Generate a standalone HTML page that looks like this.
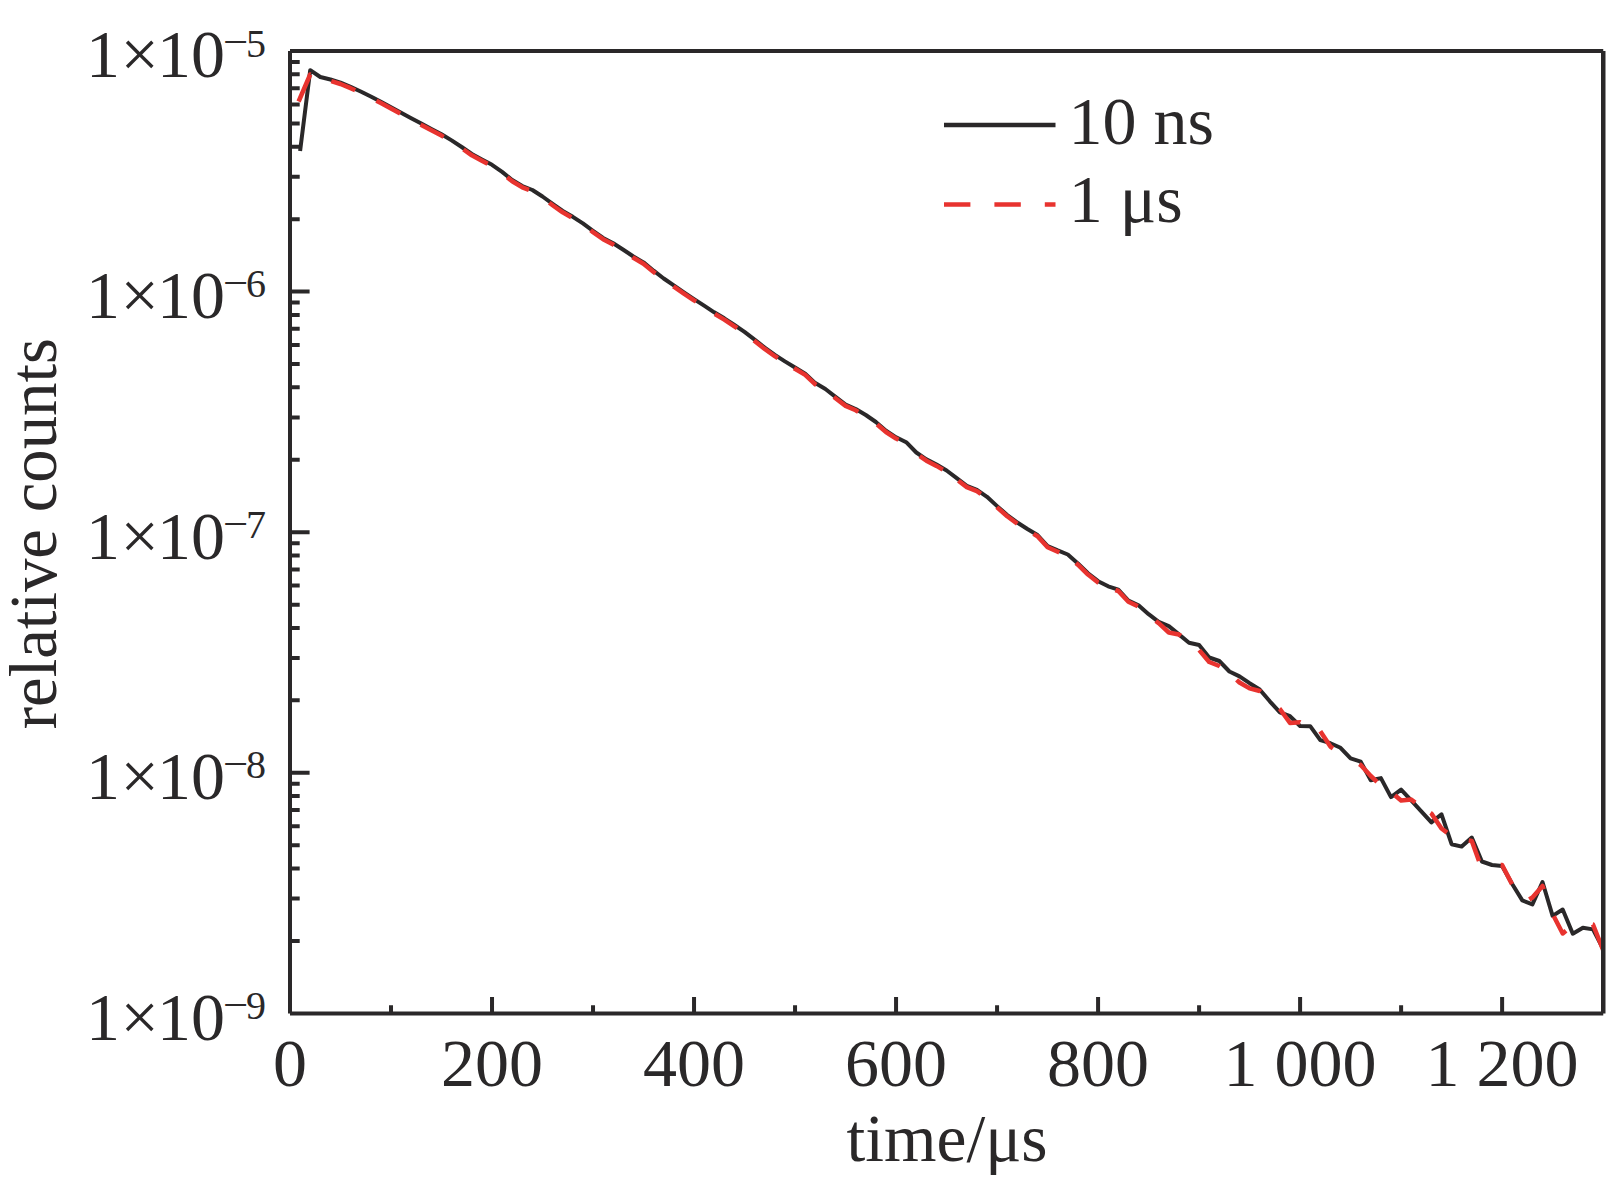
<!DOCTYPE html>
<html><head><meta charset="utf-8"><style>
html,body{margin:0;padding:0;background:#fff;width:1606px;height:1181px;overflow:hidden}
svg{display:block}
.t{font-family:"Liberation Serif","Times New Roman",serif;font-size:68px;fill:#2a2829}
.s{font-family:"Liberation Serif","Times New Roman",serif;font-size:40px;fill:#2a2829}
</style></head><body>
<svg width="1606" height="1181" viewBox="0 0 1606 1181">
<rect width="1606" height="1181" fill="#fff"/>
<defs><clipPath id="c"><rect x="290" y="51" width="1313.1" height="962.4"/></clipPath></defs>
<g clip-path="url(#c)" fill="none" stroke-linejoin="round">
<polyline points="300.1,151.0 310.2,70.2 320.3,77.0 330.4,79.5 340.5,82.7 350.6,86.9 360.7,91.5 370.8,96.5 380.9,101.8 391.0,107.3 401.1,112.8 411.2,118.3 421.3,123.6 431.4,128.9 441.5,134.3 451.6,140.4 461.7,147.0 471.8,154.0 481.9,159.5 492.0,164.8 502.1,171.9 512.2,180.0 522.3,186.0 532.4,190.0 542.5,196.5 552.6,203.9 562.7,211.0 572.8,216.8 582.9,223.4 593.0,230.8 603.1,237.9 613.2,243.3 623.3,249.8 633.4,256.5 643.5,262.4 653.6,270.7 663.7,278.5 673.8,285.4 683.9,292.3 694.0,299.1 704.1,305.6 714.2,312.3 724.3,318.3 734.4,325.0 744.5,331.9 754.6,339.6 764.7,347.6 774.8,354.9 784.9,361.4 795.0,367.5 805.2,373.6 815.3,383.1 825.4,389.0 835.5,396.9 845.6,404.6 855.7,409.0 865.8,415.0 875.9,422.0 886.0,430.7 896.1,437.3 906.2,442.2 916.3,452.5 926.4,459.4 936.5,464.6 946.6,470.5 956.7,478.2 966.8,485.8 976.9,489.8 987.0,496.8 997.1,506.1 1007.2,515.0 1017.3,522.5 1027.4,529.0 1037.5,535.0 1047.6,546.0 1057.7,550.4 1067.8,554.5 1077.9,563.4 1088.0,573.3 1098.1,581.2 1108.2,586.3 1118.3,589.7 1128.4,600.5 1138.5,605.2 1148.6,614.2 1158.7,621.9 1168.8,626.1 1178.9,634.4 1189.0,642.7 1199.1,645.0 1209.2,657.5 1219.3,661.0 1229.4,671.5 1239.5,676.4 1249.6,683.2 1259.7,689.5 1269.8,701.3 1279.9,712.3 1290.0,716.2 1300.1,726.0 1310.2,726.2 1320.3,740.2 1330.4,743.2 1340.5,747.8 1350.6,758.4 1360.7,761.7 1370.8,780.3 1380.9,778.1 1391.0,797.1 1401.1,789.6 1411.2,800.3 1421.3,811.3 1431.4,822.4 1441.5,814.3 1451.6,844.2 1461.7,846.6 1471.8,837.5 1481.9,861.5 1492.0,865.0 1502.1,866.0 1512.2,884.0 1522.3,900.4 1532.4,904.4 1542.5,882.0 1552.6,915.9 1562.7,909.5 1572.8,933.7 1582.9,927.7 1593.0,929.4 1603.1,948.9" stroke="#2a2829" stroke-width="4"/>
<g stroke="#e8332f" stroke-width="4.5"><polyline points="298.6,101.5 300.1,98.0 310.2,74.5 310.4,74.6"/><polyline points="331.3,81.1 340.5,84.0 350.6,88.2 355.2,90.3"/><polyline points="376.4,100.7 380.9,103.1 391.0,108.6 400.2,113.6"/><polyline points="420.6,124.5 421.3,124.9 431.4,130.2 441.5,135.6 443.7,136.9"/><polyline points="463.5,149.5 471.8,155.3 481.9,160.8 487.6,163.8"/><polyline points="507.2,177.3 512.2,181.3 522.3,187.3 528.9,189.9"/><polyline points="549.3,202.8 552.6,205.2 562.7,212.3 571.3,217.2"/><polyline points="590.6,230.3 593.0,232.1 603.1,239.2 613.2,244.6 614.0,245.1"/><polyline points="632.5,257.2 633.4,257.8 643.5,263.7 653.6,272.0 655.5,273.4"/><polyline points="673.4,286.4 673.8,286.7 683.9,293.6 694.0,300.4 696.1,301.7"/><polyline points="714.9,314.0 724.3,319.6 734.4,326.3 737.1,328.1"/><polyline points="754.0,340.4 754.6,340.9 764.7,348.9 774.8,356.2 777.8,358.1"/><polyline points="794.0,368.2 795.0,368.8 805.2,374.9 815.3,384.4 816.3,385.0"/><polyline points="833.9,397.0 835.5,398.2 845.6,405.9 855.7,410.3 858.3,411.9"/><polyline points="877.2,424.5 886.0,432.0 896.1,438.6 898.5,439.8"/><polyline points="919.8,456.2 926.4,460.7 936.5,465.9 942.8,469.6"/><polyline points="958.4,480.8 966.8,487.1 976.9,491.1 980.8,493.8"/><polyline points="996.9,507.2 997.1,507.4 1007.2,516.3 1017.3,523.8 1017.3,523.8"/><polyline points="1033.5,533.9 1037.5,536.3 1047.6,547.3 1057.7,551.7 1059.3,552.4"/><polyline points="1076.0,563.0 1077.9,564.7 1088.0,574.6 1098.1,582.5 1098.5,582.7"/><polyline points="1115.4,590.0 1118.3,591.0 1128.4,601.8 1137.8,606.2"/><polyline points="1155.8,621.0 1158.7,623.2 1168.8,632.5 1178.9,634.5 1180.8,635.9"/><polyline points="1199.2,650.1 1209.2,662.0 1219.3,666.0 1219.9,666.4"/><polyline points="1236.6,679.8 1239.5,682.5 1249.6,688.4 1259.7,691.0 1260.6,691.8"/><polyline points="1279.5,708.6 1279.9,709.0 1290.0,723.0 1300.1,722.3 1300.3,722.4"/><polyline points="1320.3,731.3 1320.3,731.3 1330.4,746.6 1333.0,748.4"/><polyline points="1359.3,764.1 1360.7,765.0 1370.8,776.0 1377.0,781.8"/><polyline points="1394.8,795.2 1401.1,800.5 1411.2,799.5 1415.2,802.5"/><polyline points="1430.5,812.9 1431.4,813.5 1441.5,828.5 1447.0,832.6"/><polyline points="1468.8,840.4 1471.8,841.0 1479.0,860.9"/><polyline points="1500.7,865.0 1502.1,865.0 1512.0,884.1"/><polyline points="1529.3,899.5 1532.4,897.5 1542.5,886.0 1543.7,889.3"/><polyline points="1553.8,916.3 1562.7,933.5 1566.0,930.7"/><polyline points="1592.6,924.4 1593.0,924.5 1603.1,950.0 1604.0,952.2"/></g>
</g>
<g stroke="#2a2829" stroke-width="4" fill="none">
<path d="M290,940.97h9.7 M290,898.60h9.7 M290,868.54h9.7 M290,845.23h9.7 M290,826.18h9.7 M290,810.07h9.7 M290,796.12h9.7 M290,783.81h9.7 M290,772.80h19.6 M290,700.37h9.7 M290,658.00h9.7 M290,627.94h9.7 M290,604.63h9.7 M290,585.58h9.7 M290,569.47h9.7 M290,555.52h9.7 M290,543.21h9.7 M290,532.20h19.6 M290,459.77h9.7 M290,417.40h9.7 M290,387.34h9.7 M290,364.03h9.7 M290,344.98h9.7 M290,328.87h9.7 M290,314.92h9.7 M290,302.61h9.7 M290,291.60h19.6 M290,219.17h9.7 M290,176.80h9.7 M290,146.74h9.7 M290,123.43h9.7 M290,104.38h9.7 M290,88.27h9.7 M290,74.32h9.7 M290,62.01h9.7 M290,51.00h19.6 M391.01,1013.4v-8.2 M492.02,1013.4v-16.5 M593.03,1013.4v-8.2 M694.04,1013.4v-16.5 M795.05,1013.4v-8.2 M896.06,1013.4v-16.5 M997.07,1013.4v-8.2 M1098.08,1013.4v-16.5 M1199.09,1013.4v-8.2 M1300.10,1013.4v-16.5 M1401.11,1013.4v-8.2 M1502.12,1013.4v-16.5"/>
<path d="M290,51V1013.4M290,1013.4H1603.25M290,51H1603.25"/>
<path d="M1603.25,51V1013.4" stroke-width="4.5"/>
</g>
<g stroke-width="4.5" fill="none">
<path d="M944,125H1055.5" stroke="#2a2829"/>
<path d="M944,204.4H1055.5" stroke="#e8332f" stroke-dasharray="26.4 24"/>
</g>
<text x="86.1" y="77.3" class="t">1</text><text x="120.6" y="77.3" class="t">×</text><text x="157" y="77.3" class="t">10</text><text transform="translate(222.9,55.3) scale(1.12,1)" class="s">−</text><text x="245.9" y="56.5" class="s">5</text><text x="86.1" y="317.9" class="t">1</text><text x="120.6" y="317.9" class="t">×</text><text x="157" y="317.9" class="t">10</text><text transform="translate(222.9,295.9) scale(1.12,1)" class="s">−</text><text x="245.9" y="297.1" class="s">6</text><text x="86.1" y="558.5" class="t">1</text><text x="120.6" y="558.5" class="t">×</text><text x="157" y="558.5" class="t">10</text><text transform="translate(222.9,536.5) scale(1.12,1)" class="s">−</text><text x="245.9" y="537.7" class="s">7</text><text x="86.1" y="799.1" class="t">1</text><text x="120.6" y="799.1" class="t">×</text><text x="157" y="799.1" class="t">10</text><text transform="translate(222.9,777.1) scale(1.12,1)" class="s">−</text><text x="245.9" y="778.3" class="s">8</text><text x="86.1" y="1039.7" class="t">1</text><text x="120.6" y="1039.7" class="t">×</text><text x="157" y="1039.7" class="t">10</text><text transform="translate(222.9,1017.7) scale(1.12,1)" class="s">−</text><text x="245.9" y="1018.9" class="s">9</text>
<text x="290.0" y="1085.8" class="t" text-anchor="middle" xml:space="preserve">0</text><text x="492.0" y="1085.8" class="t" text-anchor="middle" xml:space="preserve">200</text><text x="694.0" y="1085.8" class="t" text-anchor="middle" xml:space="preserve">400</text><text x="896.1" y="1085.8" class="t" text-anchor="middle" xml:space="preserve">600</text><text x="1098.1" y="1085.8" class="t" text-anchor="middle" xml:space="preserve">800</text><text x="1300.1" y="1085.8" class="t" text-anchor="middle" xml:space="preserve">1 000</text><text x="1502.1" y="1085.8" class="t" text-anchor="middle" xml:space="preserve">1 200</text>
<text x="1068.6" y="144" class="t" xml:space="preserve">10 ns</text>
<text x="1068.8" y="221.9" class="t" xml:space="preserve">1 μs</text>
<text transform="translate(947,1160.8) scale(0.993,1)" class="t" text-anchor="middle">time/μs</text>
<text transform="translate(56,533.6) rotate(-90) scale(0.982,1)" class="t" text-anchor="middle">relative counts</text>
</svg>
</body></html>
